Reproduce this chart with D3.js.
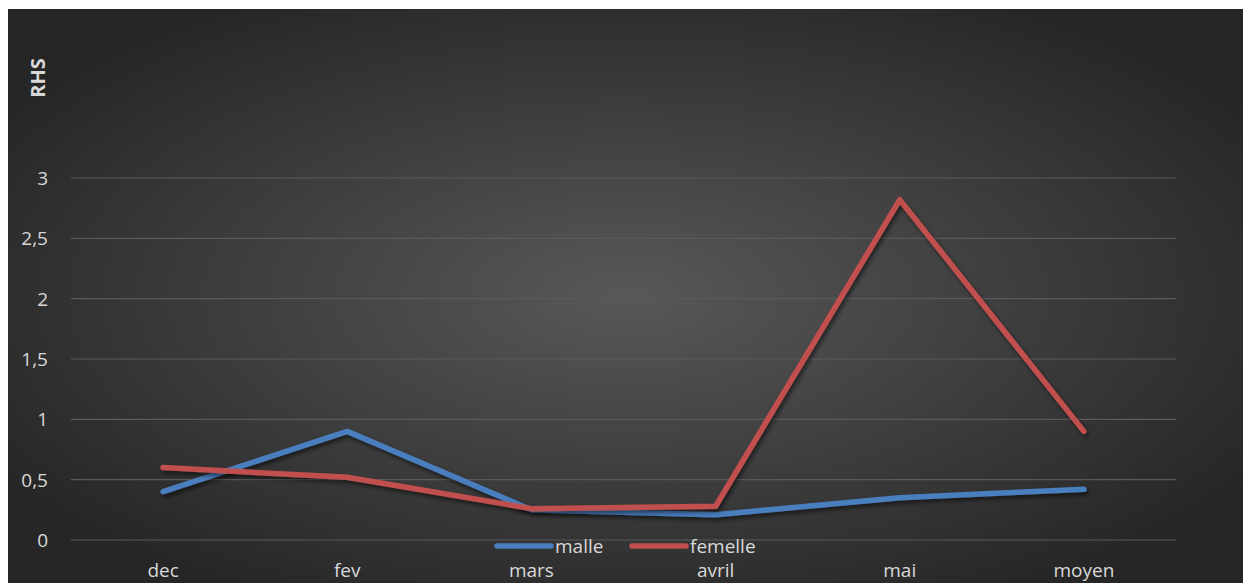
<!DOCTYPE html>
<html>
<head>
<meta charset="utf-8">
<script src="https://cdn.jsdelivr.net/npm/d3@7"></script>
<style>
  html, body { margin: 0; padding: 0; background: #ffffff; }
  svg { display: block; }
</style>
</head>
<body>
<svg id="chart" width="1243" height="583"></svg>
<script>
// Monthly RHS values per sex
const categories = ["dec", "fev", "mars", "avril", "mai", "moyen"];
const malle = [0.40, 0.90, 0.25, 0.21, 0.35, 0.42];
const femelle = [0.60, 0.52, 0.26, 0.28, 2.82, 0.90];
const yTicks = [0, 0.5, 1, 1.5, 2, 2.5, 3];
const yTickLabels = ["0", "0,5", "1", "1,5", "2", "2,5", "3"];
const seriesNames = ["malle", "femelle"];
const seriesColors = ["#4a7ebf", "#c0504d"];

const W = 1243, H = 583;
const svg = d3.select("#chart");
const defs = svg.append("defs");

// Dark radial background
const grad = defs.append("radialGradient")
  .attr("id", "bg").attr("cx", "50%").attr("cy", "50%").attr("r", "60%");
grad.append("stop").attr("offset", "0%").attr("stop-color", "#585858");
grad.append("stop").attr("offset", "100%").attr("stop-color", "#262626");

const shadow = defs.append("filter").attr("id", "shadow")
  .attr("x", "-5%").attr("y", "-5%").attr("width", "110%").attr("height", "120%");
shadow.append("feDropShadow").attr("dx", 2).attr("dy", 3).attr("stdDeviation", 2)
  .attr("flood-color", "#000").attr("flood-opacity", 0.55);

const chartX = 8, chartY = 9;
svg.append("rect").attr("x", chartX).attr("y", chartY)
  .attr("width", W - chartX).attr("height", H - chartY).attr("fill", "url(#bg)");

const plot = { left: 71, right: 1176, top: 178, bottom: 540 };

const x = d3.scaleBand().domain(categories).range([plot.left, plot.right]);
const y = d3.scaleLinear().domain([0, 3]).range([plot.bottom, plot.top]);

const font = "'Open Sans', 'Noto Sans', sans-serif";
const textColor = "#d9d9d9";

// Gridlines
svg.append("g").selectAll("line").data(yTicks).join("line")
  .attr("x1", plot.left).attr("x2", plot.right)
  .attr("y1", d => y(d)).attr("y2", d => y(d))
  .attr("stroke", "#5a5a5a").attr("stroke-width", 1.2);

// Y axis labels
const yAxis = d3.axisLeft(y).tickValues(yTicks)
  .tickFormat((d, i) => yTickLabels[i]).tickSize(0).tickPadding(0);
const gy = svg.append("g").attr("transform", `translate(48,0)`).call(yAxis);
gy.select(".domain").remove();
gy.selectAll("text").attr("fill", textColor).attr("font-family", font)
  .attr("font-size", 19).attr("dy", "0.35em");

// X axis labels
const xAxis = d3.axisBottom(x).tickSize(0).tickPadding(0);
const gx = svg.append("g").attr("transform", `translate(0,563)`).call(xAxis);
gx.select(".domain").remove();
gx.selectAll("text").attr("fill", textColor).attr("font-family", font)
  .attr("font-size", 19).attr("dy", "0.71em");

// Axis title
svg.append("text")
  .attr("transform", "translate(45,78) rotate(-90)")
  .attr("text-anchor", "middle")
  .attr("fill", textColor).attr("font-family", font)
  .attr("font-size", 20).attr("font-weight", "bold")
  .text("RHS");

// Lines
const line = d3.line().x((d, i) => x(categories[i]) + x.bandwidth() / 2).y(d => y(d));
[malle, femelle].forEach((vals, k) => {
  svg.append("path").datum(vals)
    .attr("d", line)
    .attr("fill", "none")
    .attr("stroke", seriesColors[k])
    .attr("stroke-width", 5.5)
    .attr("stroke-linecap", "round")
    .attr("stroke-linejoin", "round")
    .attr("filter", "url(#shadow)");
});

// Legend
const legendX = [497, 632];
seriesNames.forEach((name, k) => {
  const g = svg.append("g").attr("transform", `translate(${legendX[k]},546)`);
  g.append("line").attr("x1", 0).attr("x2", 54).attr("y1", 0).attr("y2", 0)
    .attr("stroke", seriesColors[k]).attr("stroke-width", 5.5).attr("stroke-linecap", "round");
  g.append("text").attr("x", 58).attr("y", 0).attr("dy", "0.35em")
    .attr("fill", textColor).attr("font-family", font).attr("font-size", 19)
    .text(name);
});
</script>
</body>
</html>
